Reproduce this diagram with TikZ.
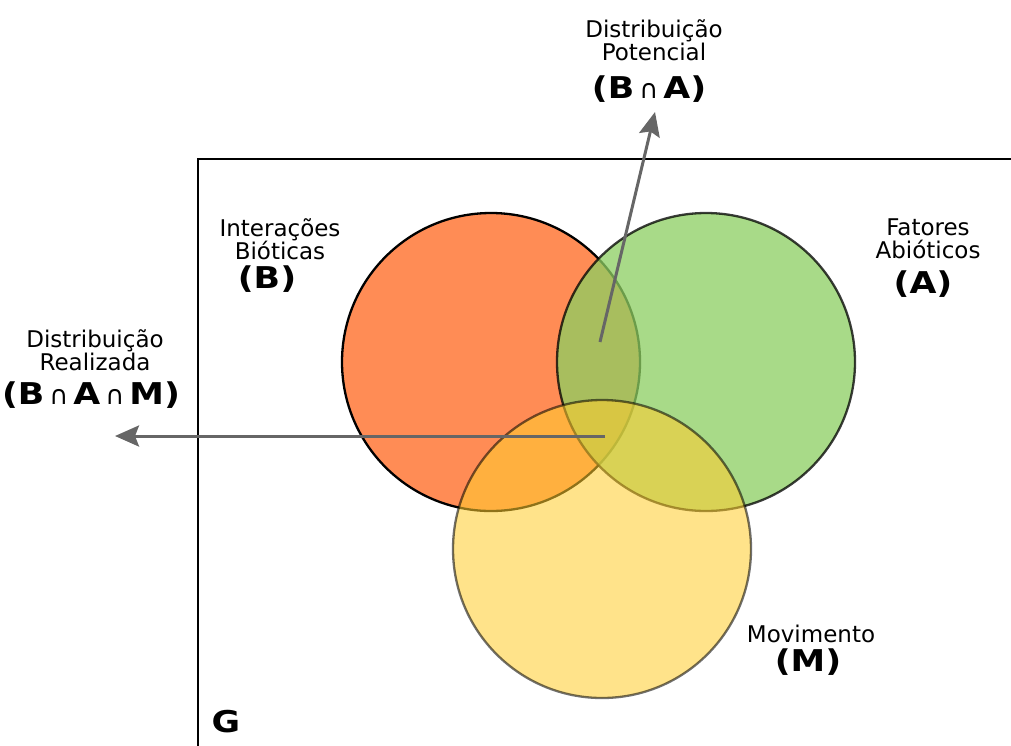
\documentclass[tikz,border=0pt]{standalone}
\usepackage{fontspec}
\setmainfont{DejaVu Sans}
\newfontfamily\letterfont[FakeStretch=1.16]{DejaVu Sans Bold}
\usetikzlibrary{positioning,arrows.meta}

\definecolor{bioRed}{HTML}{FF8C55}
\definecolor{abioGreen}{HTML}{8DCE62}
\definecolor{movYellow}{HTML}{FFCD2E}
\definecolor{arrowGray}{HTML}{666666}

\newcommand{\capsep}{\,{\normalfont\fontsize{26}{26}\selectfont ∩}\,}

\begin{document}
\begin{tikzpicture}[
  x=1pt, y=-1pt,
  setc/.style    = {circle, inner sep=0pt, minimum size=298pt, line width=2.3pt},
  setname/.style = {align=center, inner sep=0pt, font=\fontsize{23}{23}\selectfont},
  setlet/.style  = {inner sep=0pt, font=\letterfont\fontsize{30}{30}\selectfont},
  pointer/.style = {-{Stealth[length=24pt, width=21pt, inset=4pt]},
                    line width=3pt, draw=arrowGray},
]
\useasboundingbox (0,0) rectangle (1011,745);

% ---------------- domain G ------------------------------------------------
\draw[line width=2.5pt] (198,760) -- (198,159) -- (1030,159);
\node[setlet] (g) at (226,722) {G};

% ---------------- sets ----------------------------------------------------
\node[setc, fill=bioRed, draw=black]                  (b) at (491,362) {};
\node[setc, fill=abioGreen, draw=black, opacity=0.76] (a) at (706,362) {};
\node[setc, fill=movYellow, draw=black, opacity=0.56] (m) at (602,549) {};

% ---------------- labels --------------------------------------------------
\node[setname] (bName) at (280,239) {Interações\\Bióticas};
\node[setlet]  (bLet)  at (267,279) {(B)};

\node[setname] (aName) at (928,239) {Fatores\\Abióticos};
\node[setlet]  (aLet)  at (923,284) {(A)};

\node[setname] (mName) at (811,634) {Movimento};
\node[setlet]  (mLet)  at (808,662) {(M)};

\node[setname] (potName) at (654,40) {Distribuição\\Potencial};
\node[setlet]  (potLet)  at (649,89) {(B\capsep A)};

\node[setname] (reaName) at (95,350) {Distribuição\\Realizada};
\node[setlet]  (reaLet)  at (91,395) {(B\capsep A\capsep M)};

% ---------------- pointers ------------------------------------------------
\coordinate (lens)   at (600,342);
\coordinate (core)   at (605,436);
\coordinate (potTip) at (655,112);
\coordinate (reaTip) at (115,436);

\draw[pointer] (lens) -- (potTip);
\draw[pointer] (core) -- (reaTip);

\end{tikzpicture}
\end{document}
